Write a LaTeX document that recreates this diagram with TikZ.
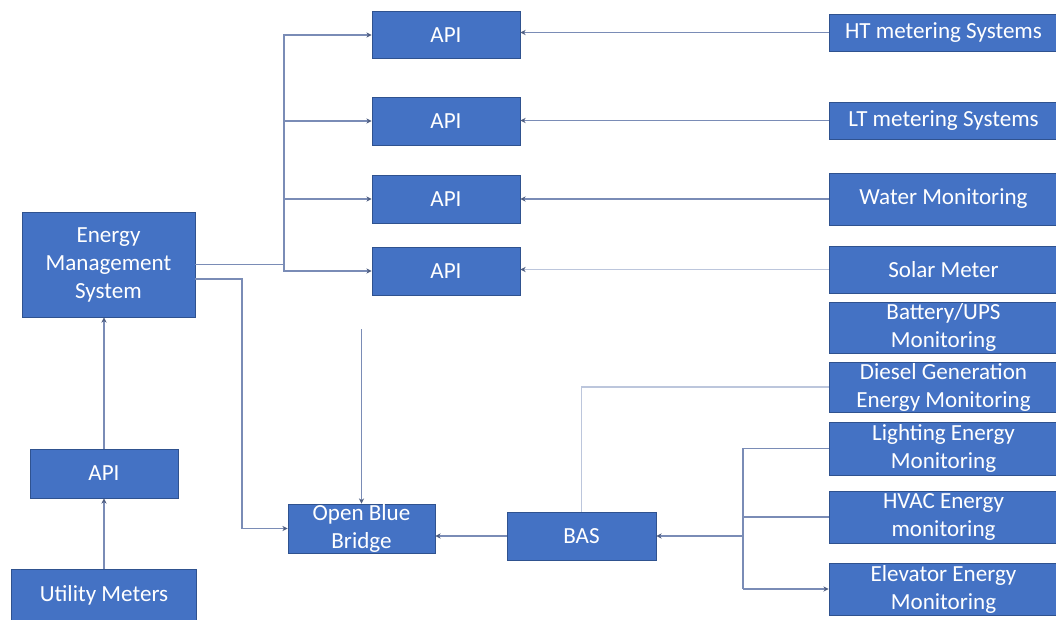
\documentclass[tikz,border=0pt]{standalone}
\usepackage{fontspec}
\setmainfont{Carlito}
\usetikzlibrary{arrows.meta,calc}
\definecolor{boxblue}{RGB}{68,114,196}
\definecolor{boxedge}{RGB}{47,82,143}
\definecolor{linecol}{RGB}{122,140,182}
\definecolor{faintcol}{RGB}{188,198,220}
\definecolor{tipcol}{RGB}{80,95,130}
\tikzset{
  box/.style={fill=boxblue, draw=boxedge, line width=0.5pt, text=white, inner sep=0pt,
    align=center, font=\fontsize{17.3}{21}\selectfont},
  conn/.style={draw=linecol, line width=1.1pt},
  faint/.style={draw=faintcol, line width=1.1pt},
  arr/.style={conn, -{Stealth[length=4pt,width=4pt,color=tipcol]}},
  farr/.style={faint, -{Stealth[length=4pt,width=4pt,color=tipcol]}},
}
\begin{document}
\begin{tikzpicture}[x=0.75pt,y=-0.75pt]
\useasboundingbox (0,0) rectangle (1056,619);
% left column
\node[box, minimum width=129.75pt, minimum height=78.75pt] (ems) at (108.5,264.5) {Energy\\Management\\System};
\node[box, minimum width=111pt, minimum height=36.75pt] (apiL) at (104,473.5) {API};
\node[box, minimum width=138.75pt, minimum height=39pt] (util) at (104,595) {Utility Meters};
% API column
\node[box, minimum width=111pt, minimum height=35.25pt] (api1) at (446,35) {API};
\node[box, minimum width=111pt, minimum height=36pt] (api2) at (446,121) {API};
\node[box, minimum width=111pt, minimum height=36pt] (api3) at (446,199) {API};
\node[box, minimum width=111pt, minimum height=36pt] (api4) at (446,271) {API};
% right column
\node[box, minimum width=171.75pt, minimum height=27.75pt] (ht) at (943.5,32.5) {HT metering Systems};
\node[box, minimum width=171.75pt, minimum height=27.75pt] (lt) at (943.5,120.5) {LT metering Systems};
\node[box, minimum width=171.75pt, minimum height=39pt] (water) at (943.5,199) {Water Monitoring};
\node[box, minimum width=171.75pt, minimum height=35.25pt] (solar) at (943.5,269.5) {Solar Meter};
\node[box, minimum width=171.75pt, minimum height=38.25pt] (battery) at (943.5,327.5) {Battery/UPS\\Monitoring};
\node[box, minimum width=171.75pt, minimum height=37.5pt] (diesel) at (943.5,387) {Diesel Generation\\Energy Monitoring};
\node[box, minimum width=171.75pt, minimum height=39.75pt] (lighting) at (943.5,448.5) {Lighting Energy\\Monitoring};
\node[box, minimum width=171.75pt, minimum height=39pt] (hvac) at (943.5,517) {HVAC Energy\\monitoring};
\node[box, minimum width=171.75pt, minimum height=39pt] (elevator) at (943.5,589) {Elevator Energy\\Monitoring};
% bottom middle
\node[box, minimum width=110.25pt, minimum height=36.75pt] (obb) at (361.5,528.5) {Open Blue\\Bridge};
\node[box, minimum width=111.75pt, minimum height=36pt] (bas) at (581.5,536) {BAS};
% helper coordinates
\coordinate (busx) at (284,0);
\coordinate (emsout) at (195,279);
\coordinate (bend) at (242,279);
\coordinate (obbin) at (361.5,329);
\coordinate (rb) at (743,0);
% connectors, left column
\draw[arr] (util.north) -- (apiL.south);
\draw[arr] (apiL.north) -- (apiL.north |- ems.south);
% EMS to APIs
\draw[arr] (ems.east) -- (ems.east -| busx) |- (api1.west);
\draw[arr] (ems.east -| busx) |- (api2.west);
\draw[arr] (ems.east -| busx) |- (api3.west);
\draw[arr] (ems.east -| busx) |- (api4.west);
% meters to APIs
\draw[arr] (ht.west) -- (ht.west -| api1.east);
\draw[arr] (lt.west) -- (lt.west -| api2.east);
\draw[arr] (water.west) -- (water.west -| api3.east);
\draw[farr] (solar.west) -- (solar.west -| api4.east);
% into Open Blue Bridge
\draw[arr] (obbin) -- (obb.north);
\draw[arr] (emsout) -- (bend) |- (obb.west);
\draw[arr] (bas.west) -- (bas.west -| obb.east);
% diesel to BAS
\draw[faint] (diesel.west) -| (bas.north);
% BAS right bus
\draw[conn] (lighting.west) -- (lighting.west -| rb) -- (rb |- elevator.west);
\draw[arr] (rb |- elevator.west) -- (elevator.west);
\draw[conn] (hvac.west) -- (hvac.west -| rb);
\draw[arr] (rb |- bas.east) -- (bas.east);
\end{tikzpicture}
\end{document}
